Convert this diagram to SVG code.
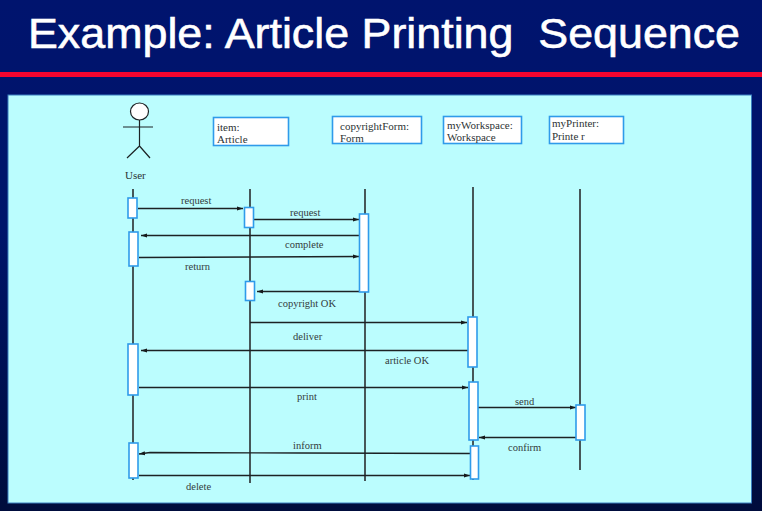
<svg xmlns="http://www.w3.org/2000/svg" width="762" height="511" viewBox="0 0 762 511">
  <defs>
    <linearGradient id="slideBg" x1="0" y1="0" x2="0" y2="1">
      <stop offset="0" stop-color="#00146e"/>
      <stop offset="0.45" stop-color="#00146a"/>
      <stop offset="1" stop-color="#000c3c"/>
    </linearGradient>
    <marker id="head" viewBox="0 0 6 6" refX="6" refY="3" markerWidth="6" markerHeight="6" markerUnits="userSpaceOnUse" orient="auto">
      <path d="M0 1 L6 3 L0 5 Z" fill="#151a1c"/>
    </marker>
    <style>
      .title { font-family: "Liberation Sans", Arial, sans-serif; font-size: 43px; fill: #ffffff; stroke: #ffffff; stroke-width: 0.6; white-space: pre; }
      .lbl { font-family: "Liberation Serif", "Times New Roman", serif; font-size: 10.500px; fill: #333b3c; }
      .obj { font-family: "Liberation Serif", "Times New Roman", serif; font-size: 11px; fill: #2c3334; }
      .box { fill: #ffffff; stroke: #2f9bea; stroke-width: 1.6; }
      .life { stroke: #3a4446; stroke-width: 1.8; fill: none; }
      .msg { stroke: #1c2224; stroke-width: 1.4; fill: none; }
      .arr { marker-end: url(#head); }
      .act { fill: #ffffff; stroke: #2f9bea; stroke-width: 1.6; }
      .stick { stroke: #1c2224; stroke-width: 1.2; fill: none; }
    </style>
  </defs>

  <rect width="762" height="511" fill="url(#slideBg)"/>
  <text class="title" x="28" y="48" textLength="712" lengthAdjust="spacingAndGlyphs" xml:space="preserve">Example: Article Printing  Sequence</text>
  <rect x="0" y="72" width="762" height="5" fill="#f5052f"/>
  <rect x="8" y="95" width="743.500" height="408" fill="#bbfdfe" stroke="#3a7fc0" stroke-width="1"/>

  <g id="lifelines">
    <path class="life" d="M133 189V480"/>
    <path class="life" d="M250 189V483"/>
    <path class="life" d="M365 189V481"/>
    <path class="life" d="M473 187V480"/>
    <path class="life" d="M580 189V470"/>
  </g>

  <g id="connectors">
    <path class="msg arr" d="M138 208.500H243"/>
    <path class="msg arr" d="M254 219.500H359"/>
    <path class="msg arr" d="M359 235.500H141"/>
    <path class="msg arr" d="M139 257.500L359 256.500"/>
    <path class="msg arr" d="M359 291.500H257"/>
    <path class="msg arr" d="M250 322.500H467"/>
    <path class="msg arr" d="M468 350.500H141"/>
    <path class="msg arr" d="M139 387.500H468"/>
    <path class="msg arr" d="M478 407.500H576"/>
    <path class="msg arr" d="M576 437.500H479"/>
    <path class="msg arr" d="M470 453.500L300 453L150 452.500L139 454"/>
    <path class="msg arr" d="M139 475.500H470"/>
  </g>

  <g id="user">
    <ellipse cx="139.500" cy="111.500" rx="9" ry="8.500" fill="#ffffff" stroke="#1c2224" stroke-width="1.200"/>
    <path class="stick" d="M139.500 120V146M123 127H153M139.500 146L127 158M139.500 146L150 158"/>
    <text class="obj" x="125" y="179">User</text>
    <rect class="act" x="128" y="198" width="9" height="20"/>
    <rect class="act" x="129" y="232" width="9" height="34"/>
    <rect class="act" x="128" y="344" width="10" height="51"/>
    <rect class="act" x="129" y="443" width="9" height="35"/>
  </g>

  <g id="item">
    <rect class="box" x="213.500" y="117.500" width="75" height="28"/>
    <text class="obj" x="217" y="131">item:</text>
    <text class="obj" x="217" y="143">Article</text>
    <rect class="act" x="244.500" y="207.500" width="9" height="20"/>
    <rect class="act" x="245.500" y="281.500" width="9" height="19"/>
  </g>

  <g id="copyrightForm">
    <rect class="box" x="332.500" y="116.500" width="89" height="27"/>
    <text class="obj" x="340" y="130">copyrightForm:</text>
    <text class="obj" x="340" y="142">Form</text>
    <rect class="act" x="359.500" y="214" width="9" height="78"/>
  </g>

  <g id="myWorkspace">
    <rect class="box" x="443.500" y="116.500" width="78" height="27"/>
    <text class="obj" x="447" y="129">myWorkspace:</text>
    <text class="obj" x="447" y="141">Workspace</text>
    <rect class="act" x="468" y="317" width="9" height="50"/>
    <rect class="act" x="469" y="382" width="9" height="58"/>
    <rect class="act" x="470.500" y="446" width="8" height="33"/>
  </g>

  <g id="myPrinter">
    <rect class="box" x="549.500" y="116.500" width="74" height="27"/>
    <text class="obj" x="552" y="127">myPrinter:</text>
    <text class="obj" x="552" y="140">Printe r</text>
    <rect class="act" x="576" y="405" width="9" height="35"/>
  </g>

  <g id="message-labels">
    <text class="lbl" x="181" y="204">request</text>
    <text class="lbl" x="290" y="216">request</text>
    <text class="lbl" x="285" y="248">complete</text>
    <text class="lbl" x="185" y="270">return</text>
    <text class="lbl" x="278" y="307">copyright OK</text>
    <text class="lbl" x="293" y="340">deliver</text>
    <text class="lbl" x="385" y="364">article OK</text>
    <text class="lbl" x="297" y="400">print</text>
    <text class="lbl" x="515" y="405">send</text>
    <text class="lbl" x="508" y="451">confirm</text>
    <text class="lbl" x="293" y="449">inform</text>
    <text class="lbl" x="186" y="490">delete</text>
  </g>
</svg>
